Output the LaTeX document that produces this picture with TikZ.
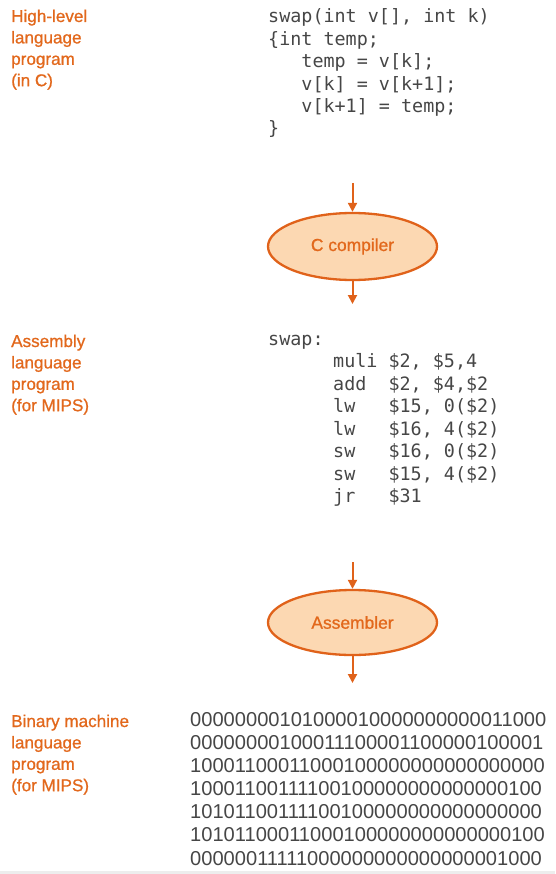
\documentclass[tikz,border=0pt]{standalone}
\usepackage{fontspec}
\setmainfont{Liberation Sans}
\newfontfamily\codefont{DejaVu Sans Mono}
\newfontfamily\binfont{Liberation Sans}
\newfontfamily\lblfont[FakeBold=0.9]{Liberation Sans}
\usetikzlibrary{shapes.geometric,arrows.meta}
\definecolor{orangetxt}{HTML}{E2681C}
\definecolor{orangeln}{HTML}{E0621A}
\definecolor{peach}{HTML}{FCD8B2}
\definecolor{codegray}{HTML}{464646}
\tikzset{
  lbl/.style={anchor=base west, inner sep=0pt, text=orangetxt, font=\lblfont\fontsize{17.1}{20}\selectfont},
  code/.style={anchor=base west, inner sep=0pt, text=codegray, font=\codefont\fontsize{18.4}{22}\selectfont},
  bin/.style={anchor=base west, inner sep=0pt, text=codegray, font=\binfont\fontsize{20.1}{23}\selectfont},
  tool/.style={ellipse, draw=orangeln, line width=2.3pt, fill=peach, inner sep=0pt,
    minimum width=169pt, text=orangetxt, font=\lblfont\fontsize{17.4}{20}\selectfont},
  arr/.style={draw=orangeln, line width=2pt, -{Triangle[length=9pt,width=9pt]}}
}
\begin{document}
\begin{tikzpicture}[x=1pt,y=-1pt]
\useasboundingbox (0,0) rectangle (555,874);
\fill[black!7] (0,871) rectangle (555,874);
% left labels
\foreach \t [count=\i] in {High-level, language, program, (in C)}
  \node[lbl] (hl\i) at (11,{22+21.4*(\i-1)}) {\t};
\foreach \t [count=\i] in {Assembly, language, program, (for MIPS)}
  \node[lbl] (al\i) at (11,{347+21.4*(\i-1)}) {\t};
\foreach \t [count=\i] in {Binary machine, language, program, (for MIPS)}
  \node[lbl] (bl\i) at (11,{727+21.4*(\i-1)}) {\t};
% C code
\node[code] (c1) at (268,23) {swap(int v[], int k)};
\node[code] (c2) at (268,45.4) {\{int temp;};
\node[code] (c3) at (268,67.8) {~~~temp = v[k];};
\node[code] (c4) at (268,90.2) {~~~v[k] = v[k+1];};
\node[code] (c5) at (268,112.6) {~~~v[k+1] = temp;};
\node[code] (c6) at (268,135) {\}};
% compiler
\node[tool, minimum height=67pt] (comp) at (352.5,246.5) {C compiler};
\coordinate (a1) at (352.5,183);
\coordinate (a2) at (352.5,304);
\draw[arr] (a1) -- (comp.north);
\draw[arr] (comp.south) -- (a2);
% assembly
\node[code] (s0) at (268,345) {swap:};
\node[code] (s1) at (333,367.5) {muli \$2, \$5,4};
\node[code] (s2) at (333,390) {add~~\$2, \$4,\$2};
\node[code] (s3) at (333,412.5) {lw~~~\$15, 0(\$2)};
\node[code] (s4) at (333,435) {lw~~~\$16, 4(\$2)};
\node[code] (s5) at (333,457.5) {sw~~~\$16, 0(\$2)};
\node[code] (s6) at (333,480) {sw~~~\$15, 4(\$2)};
\node[code] (s7) at (333,502.5) {jr~~~\$31};
% assembler
\node[tool, minimum height=65pt] (asm) at (352.5,622.5) {Assembler};
\coordinate (b1) at (352.5,562);
\coordinate (b2) at (352.5,683);
\draw[arr] (b1) -- (asm.north);
\draw[arr] (asm.south) -- (b2);
% binary
\foreach \t [count=\i] in {00000000101000010000000000011000,
  00000000100011100001100000100001,
  10001100011000100000000000000000,
  10001100111100100000000000000100,
  10101100111100100000000000000000,
  10101100011000100000000000000100,
  00000011111000000000000000001000}
  \node[bin] (m\i) at (190,{726.7+23.05*(\i-1)}) {\t};
\end{tikzpicture}
\end{document}
